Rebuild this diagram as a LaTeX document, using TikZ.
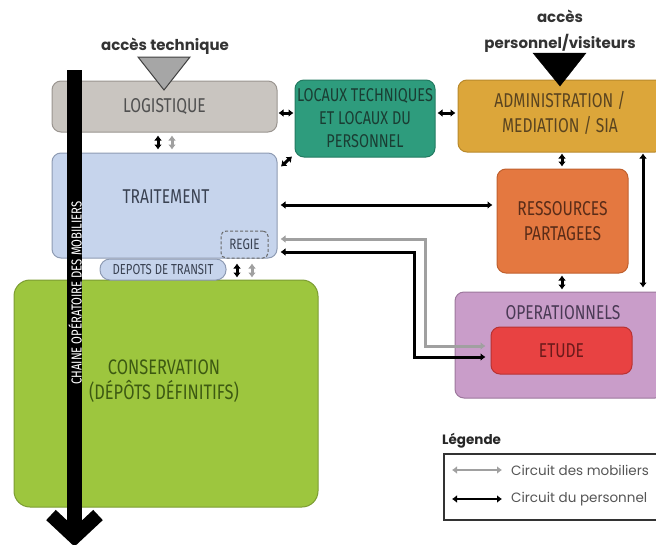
\documentclass[tikz,border=0pt]{standalone}
\usepackage{fontspec}
\setmainfont{Fira Sans}
\newfontfamily\boxfont[FakeStretch=0.78]{Fira Sans}
\newfontfamily\labfont{Poppins}
\usetikzlibrary{arrows.meta,calc}
\definecolor{logfill}{HTML}{C9C5C0}
\definecolor{logdraw}{HTML}{9A9590}
\definecolor{logtext}{HTML}{505050}
\definecolor{trafill}{HTML}{C6D4EC}
\definecolor{tradraw}{HTML}{8E9BB3}
\definecolor{tratext}{HTML}{3A4252}
\definecolor{consfill}{HTML}{9DC63E}
\definecolor{consdraw}{HTML}{7C9C32}
\definecolor{constext}{HTML}{3D5A12}
\definecolor{locfill}{HTML}{2E9C7D}
\definecolor{locdraw}{HTML}{227A61}
\definecolor{loctext}{HTML}{1A3D33}
\definecolor{admfill}{HTML}{DCA63A}
\definecolor{admdraw}{HTML}{B8892C}
\definecolor{admtext}{HTML}{5A4420}
\definecolor{resfill}{HTML}{E47840}
\definecolor{resdraw}{HTML}{C0602E}
\definecolor{restext}{HTML}{5A2C18}
\definecolor{opsfill}{HTML}{C99DC9}
\definecolor{opsdraw}{HTML}{9C779C}
\definecolor{opstext}{HTML}{4A3A55}
\definecolor{etufill}{HTML}{E84242}
\definecolor{etudraw}{HTML}{B83232}
\definecolor{etutext}{HTML}{6B1A1A}
\definecolor{mobgray}{HTML}{A0A0A0}
\definecolor{legtext}{HTML}{555555}
\begin{document}
\begin{tikzpicture}[x=1pt,y=-1pt,
  box/.style={draw, rounded corners=9pt, line width=1pt, inner sep=0pt, align=center,
    font=\boxfont\fontsize{20}{25}\selectfont},
  boxtext/.style={inner sep=0pt, align=center, font=\boxfont\fontsize{20}{25}\selectfont},
  perso/.style={line width=3pt, draw=black, line join=miter,
    {Latex[length=5pt,width=8pt]}-{Latex[length=5pt,width=8pt]}},
  mobil/.style={line width=3pt, draw=mobgray, line join=miter,
    {Latex[length=5pt,width=8pt]}-{Latex[length=5pt,width=8pt]}},
  acces/.style={inner sep=0pt, align=center, text=black!80, font=\labfont\bfseries\fontsize{15}{26}\selectfont}
]
\useasboundingbox (0,0) rectangle (656,544);

% --- boxes ---
\node[box, fill=consfill, draw=consdraw, rounded corners=16pt, minimum width=304pt, minimum height=227pt] (cons) at (166,393.5) {};
\node[boxtext, text=constext, font=\boxfont\fontsize{21}{25}\selectfont] (constxt) at (164,381) {CONSERVATION\\(DÉPÔTS DÉFINITIFS)};
\node[box, fill=trafill, draw=tradraw, rounded corners=10pt, minimum width=126pt, minimum height=21pt, font=\boxfont\fontsize{14.5}{15}\selectfont, text=tratext] (depots) at (163,269.5) {DEPOTS DE TRANSIT};
\node[box, fill=trafill, draw=tradraw, minimum width=225pt, minimum height=105pt] (tra) at (164.5,205.5) {};
\node[boxtext, text=tratext] (tratxt) at (166,197) {TRAITEMENT};
\node[box, fill=trafill, draw=black!60, dashed, dash pattern=on 3pt off 2pt, rounded corners=5pt, minimum width=47pt, minimum height=27pt, font=\boxfont\fontsize{15}{15}\selectfont, text=tratext] (regie) at (244.5,244.5) {REGIE};
\node[box, fill=logfill, draw=logdraw, minimum width=225pt, minimum height=51pt, text=logtext] (log) at (164.5,106.5) {LOGISTIQUE};
\node[box, fill=locfill, draw=locdraw, minimum width=140pt, minimum height=77pt, text=loctext, font=\boxfont\fontsize{18.5}{23}\selectfont] (loc) at (365,118.5) {LOCAUX TECHNIQUES\\ET LOCAUX DU\\PERSONNEL};
\node[box, fill=admfill, draw=admdraw, minimum width=206pt, minimum height=72pt] (adm) at (561,116) {};
\node[boxtext, text=admtext] (admtxt) at (560,113) {ADMINISTRATION /\\MEDIATION / SIA};
\node[box, fill=resfill, draw=resdraw, minimum width=131pt, minimum height=104pt, text=restext] (res) at (562.5,221) {RESSOURCES\\PARTAGEES};
\node[box, fill=opsfill, draw=opsdraw, minimum width=209pt, minimum height=106pt] (ops) at (559.5,345) {};
\node[boxtext, text=opstext] (opstxt) at (563,313) {OPERATIONNELS};
\node[box, fill=etufill, draw=etudraw, minimum width=141pt, minimum height=47pt, text=etutext] (etude) at (561.5,350.5) {ETUDE};

% --- access triangles and labels ---
\node[acces] (acctech) at (165,46) {accès technique};
\draw[fill=black!35, draw=black!75, line width=1pt, line join=miter] (138,57) -- (190,57) -- (164,90) -- cycle;
\node[acces] (accpers) at (560,31) {accès\\personnel/visiteurs};
\draw[fill=black, draw=black, line join=miter] (533,53) -- (586,53) -- (560,86) -- cycle;

% --- connectors ---
\path (158,0 |- log.south) ++(0,3) coordinate (a1);
\path (158,0 |- tra.north) ++(0,-3) coordinate (a2);
\draw[perso] (a1) -- (a2);
\path (172,0 |- log.south) ++(0,3) coordinate (b1);
\path (172,0 |- tra.north) ++(0,-3) coordinate (b2);
\draw[mobil] (b1) -- (b2);
\coordinate (c1) at (237,263.5);
\coordinate (c2) at (237,277.5);
\draw[perso] (c1) -- (c2);
\coordinate (d1) at (252,263.5);
\coordinate (d2) at (252,277.5);
\draw[mobil] (d1) -- (d2);
\draw[perso, shorten <=1pt, shorten >=1pt] (log.east |- 0,113) -- (loc.west |- 0,113);
\draw[perso, shorten <=2pt, shorten >=2pt] (loc.east |- 0,113) -- (adm.west |- 0,113);
\coordinate (e1) at (281,166.5);
\coordinate (e2) at (292,156.5);
\draw[perso] (e1) -- (e2);
\draw[perso, shorten <=1pt, shorten >=2pt] (562,0 |- adm.south) -- (562,0 |- res.north);
\draw[perso, shorten <=2pt, shorten >=2pt] (562,0 |- res.south) -- (562,0 |- ops.north);
\draw[perso, shorten <=1pt, shorten >=4pt] (643,0 |- adm.south) -- (643,0 |- ops.north);
\draw[perso, shorten <=3pt, shorten >=4pt] (tra.east |- 0,205) -- (res.west |- 0,205);
\draw[mobil, shorten <=3pt, shorten >=5pt] (tra.east |- 0,239) -- (425,239) -- (425,346) -- (etude.west |- 0,346);
\draw[perso, shorten <=3pt, shorten >=5pt] (tra.east |- 0,252) -- (414,252) -- (414,357) -- (etude.west |- 0,357);

% --- chaine operatoire arrow ---
\draw[line width=15pt] (74.5,70) -- (74.5,534);
\draw[line width=14pt, line join=miter, line cap=butt] (51,515) -- (74.5,537) -- (98,515);
\node[rotate=90, text=white, inner sep=0pt, font=\boxfont\fontsize{14.5}{15}\selectfont] (chaine) at (75,293) {CHAINE OPÉRATOIRE DES MOBILIERS};

% --- legend ---
\node[anchor=west, inner sep=0pt, font=\labfont\bfseries\fontsize{13.5}{15}\selectfont, text=black!85] (legtitle) at (442,441) {Légende};
\node[draw=black!80, line width=1.5pt, minimum width=222pt, minimum height=66pt, inner sep=0pt, anchor=north west] (legbox) at (443,453) {};
\coordinate (l1) at (452,470);
\coordinate (l2) at (502,470);
\draw[mobil, line width=2.5pt] (l1) -- (l2);
\node[anchor=west, inner sep=0pt, text=legtext, font=\labfont\fontsize{13.5}{15}\selectfont] (legmob) at (511,470) {Circuit des mobiliers};
\coordinate (l3) at (452,499);
\coordinate (l4) at (502,499);
\draw[perso, line width=2.5pt] (l3) -- (l4);
\node[anchor=west, inner sep=0pt, text=legtext, font=\labfont\fontsize{13.5}{15}\selectfont] (legper) at (511,499) {Circuit du personnel};
\end{tikzpicture}
\end{document}
